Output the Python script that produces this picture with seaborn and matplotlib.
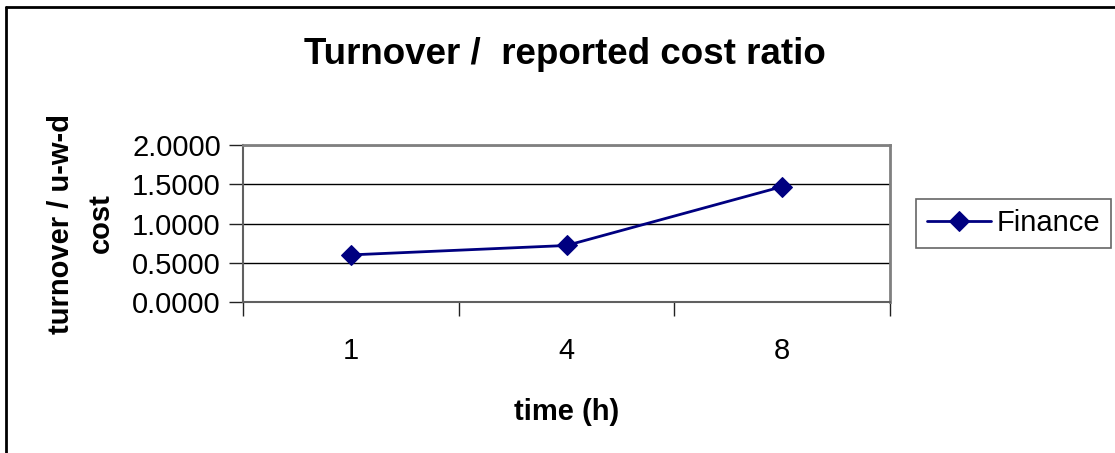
import matplotlib
matplotlib.use("Agg")
import matplotlib.pyplot as plt
from matplotlib.lines import Line2D
from matplotlib.ticker import FixedLocator, NullFormatter
import seaborn as sns
import pandas as pd

# Data
hours = ["1", "4", "8"]
finance = [0.60, 0.72, 1.47]
y_ticks = [0.0, 0.5, 1.0, 1.5, 2.0]

sns.set_theme(style="white")
plt.rcParams["font.family"] = ["Liberation Sans", "DejaVu Sans"]
plt.rcParams.update({"text.color": "black", "axes.labelcolor": "black",
                     "xtick.color": "black", "ytick.color": "black"})

W, H = 1115, 453
fig = plt.figure(figsize=(W / 100, H / 100), dpi=100)
ax = fig.add_axes([243 / W, (H - 302) / H, (890 - 243) / W, (302 - 145) / H])

df = pd.DataFrame({"time": hours, "ratio": finance, "series": "Finance"})
sns.lineplot(data=df, x="time", y="ratio", sort=False, color="#000080",
             marker="D", markersize=10, markeredgecolor="#000080",
             linewidth=2, label="Finance", ax=ax)

ax.set_xlim(-0.5, len(hours) - 0.5)
ax.set_ylim(0, 2.0)
ax.set_yticks(y_ticks)
ax.set_yticklabels([f"{v:.4f}" for v in y_ticks], fontsize=21)
ax.yaxis.grid(True, color="black", linewidth=1)
ax.set_axisbelow(True)

# category labels without ticks, boundary ticks between categories
ax.set_xticks(range(len(hours)))
ax.set_xticklabels(hours, fontsize=21)
ax.tick_params(axis="x", which="major", length=0, pad=25)
ax.xaxis.set_minor_locator(FixedLocator([i - 0.5 for i in range(len(hours) + 1)]))
ax.xaxis.set_minor_formatter(NullFormatter())
ax.tick_params(axis="x", which="minor", bottom=True, length=10, width=1, color="#222222", direction="out")
ax.tick_params(axis="y", which="major", left=True, length=10, width=1, color="#222222", direction="out", pad=6)

for side in ["top", "right"]:
    ax.spines[side].set_color("#808080")
    ax.spines[side].set_linewidth(2)
for side in ["left", "bottom"]:
    ax.spines[side].set_color("#606060")
    ax.spines[side].set_linewidth(1.5)

ax.set_xlabel("time (h)", fontsize=21, fontweight="bold", labelpad=24)
ax.set_ylabel("turnover / u-w-d\ncost", fontsize=21, fontweight="bold",
              labelpad=12, linespacing=1.55)

fig.text(565 / W, 1 - 55 / H, "Turnover /  reported cost ratio",
         fontsize=26.5, fontweight="bold", ha="center", va="center")

leg = ax.legend(loc="center", bbox_to_anchor=(1013.5 / W, 1 - 223 / H),
                bbox_transform=fig.transFigure, fontsize=21, frameon=True,
                fancybox=False, borderpad=0.36, handlelength=2.2,
                handletextpad=0.2, borderaxespad=0)
leg.get_frame().set_edgecolor("#404040")
leg.get_frame().set_linewidth(1.2)

# chart frame
fig.add_artist(Line2D([6 / W, 6 / W], [0, 1 - 7 / H], transform=fig.transFigure,
                      color="black", linewidth=2))
fig.add_artist(Line2D([6 / W, 1], [1 - 7 / H, 1 - 7 / H], transform=fig.transFigure,
                      color="black", linewidth=2))

fig.savefig("out.png", dpi=100, facecolor="white")
